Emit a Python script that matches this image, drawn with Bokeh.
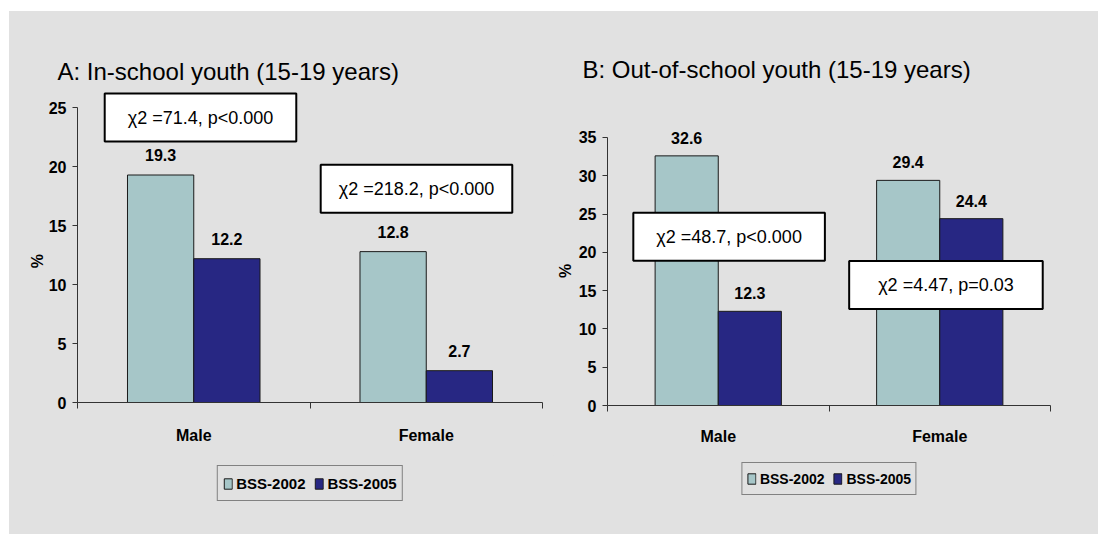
import numpy as np
from bokeh.plotting import figure
from bokeh.models import (ColumnDataSource, Range1d, FixedTicker, Label, LabelSet,
                          Legend, LegendItem, Spacer)
from bokeh.core.properties import value
from bokeh.layouts import row, column
from bokeh.embed import file_html
from bokeh.resources import INLINE

# ---------------- data ----------------
categories = ["Male", "Female"]
series_names = ["BSS-2002", "BSS-2005"]
a_2002 = [19.3, 12.8]
a_2005 = [12.2, 2.7]
b_2002 = [32.6, 29.4]
b_2005 = [12.3, 24.4]
a_title = "A: In-school youth (15-19 years)"
b_title = "B: Out-of-school youth (15-19 years)"
a_tests = ["\u03c72 =71.4, p<0.000", "\u03c72 =218.2, p<0.000"]
b_tests = ["\u03c72 =48.7, p<0.000", "\u03c72 =4.47, p=0.03"]
a_yticks = [0, 5, 10, 15, 20, 25]
b_yticks = [0, 5, 10, 15, 20, 25, 30, 35]
y_label = "%"

# ---------------- style ----------------
BG = "#e1e1e1"
COLORS = ["#a6c6c8", "#272783"]
SANS = "Liberation Sans"
BAR_W = 0.285
MAIN_H = 444
LEG_H = 79
NBSP = "\u00a0"


def style_fig(p):
    p.background_fill_color = BG
    p.border_fill_color = BG
    p.outline_line_color = None


def make_panel(width, borders, y_end, yticks, series_vals, title, title_offset, title_standoff,
               tests, tests_xy, tests_hpad, label_off, x_standoff, ylab_standoff, ylab_pad,
               legend_font, legend_pad, legend_lh, legend_margin):
    n = len(categories)
    p = figure(width=width, height=MAIN_H, x_range=Range1d(0, n), y_range=Range1d(0, y_end),
               output_backend="svg", toolbar_location=None,
               min_border_left=borders[0], min_border_right=borders[1],
               min_border_top=borders[2], min_border_bottom=borders[3])
    style_fig(p)
    p.xgrid.visible = False
    p.ygrid.visible = False

    # title
    p.title.text = title
    p.title.align = "left"
    p.title.offset = title_offset
    p.title.standoff = title_standoff
    p.title.text_font = SANS
    p.title.text_font_size = "24px"
    p.title.text_font_style = "normal"
    p.title.text_color = "black"

    centers = np.arange(n) + 0.5
    offsets = [-BAR_W / 2, BAR_W / 2]
    for vals, col, off in zip(series_vals, COLORS, offsets):
        src = ColumnDataSource(dict(x=centers + off, top=vals,
                                    label=[f"{v:.1f}" for v in vals]))
        p.vbar(x="x", top="top", bottom=0, width=BAR_W, source=src,
               fill_color=col, line_color="#1a1a1a", line_width=1)
        p.add_layout(LabelSet(x="x", y="top", text="label", source=src,
                              text_align="center", text_baseline="middle",
                              y_offset=label_off, text_font=value(SANS),
                              text_font_style="bold", text_font_size="16px",
                              text_color="black"))

    # axes
    xa = p.xaxis[0]
    xa.ticker = FixedTicker(ticks=list(centers), minor_ticks=list(range(n + 1)))
    xa.major_label_overrides = {float(c): categories[i] for i, c in enumerate(centers)}
    xa.major_tick_out = 0
    xa.major_tick_in = 0
    xa.minor_tick_out = 6
    xa.minor_tick_in = 0
    xa.minor_tick_line_color = "#333333"
    xa.axis_line_color = "#333333"
    xa.major_label_standoff = x_standoff
    xa.major_label_text_font = SANS
    xa.major_label_text_font_style = "bold"
    xa.major_label_text_font_size = "16px"
    xa.major_label_text_color = "black"

    ya = p.yaxis[0]
    ya.ticker = FixedTicker(ticks=yticks)
    ya.bounds = (yticks[0], yticks[-1])
    ya.major_tick_out = 5
    ya.major_tick_in = 0
    ya.minor_tick_out = 0
    ya.minor_tick_in = 0
    ya.major_tick_line_color = "#333333"
    ya.axis_line_color = "#333333"
    ya.major_label_standoff = 6
    ya.major_label_text_font = SANS
    ya.major_label_text_font_style = "bold"
    ya.major_label_text_font_size = "16px"
    ya.major_label_text_color = "black"
    # non-breaking spaces centre the "%" on the 0..max part of the axis
    ya.axis_label = y_label + NBSP * ylab_pad
    ya.axis_label_standoff = ylab_standoff
    ya.axis_label_text_font = SANS
    ya.axis_label_text_font_style = "bold"
    ya.axis_label_text_font_size = "16px"
    ya.axis_label_text_color = "black"

    # chi-square boxes
    for t, (tx, ty), hp in zip(tests, tests_xy, tests_hpad):
        p.add_layout(Label(x=tx, y=ty, text=t, text_font=SANS, text_font_size="18px",
                           text_align="center", text_baseline="middle", text_color="black",
                           background_fill_color="white", border_line_color="black",
                           border_line_width=2,
                           padding=dict(left=hp, right=hp, top=14, bottom=14)))

    # legend strip (its own small figure, frame aligned with the chart frame)
    lg = figure(width=width, height=LEG_H, x_range=Range1d(0, 1), y_range=Range1d(0, 1),
                output_backend="svg", toolbar_location=None,
                x_axis_type=None, y_axis_type=None,
                min_border_left=borders[0], min_border_right=borders[1],
                min_border_top=0, min_border_bottom=0)
    style_fig(lg)
    items = []
    for s, col in zip(series_names, COLORS):
        # swatch-only renderer (hidden in the strip, shown in the legend)
        r = lg.vbar(x=[0.5], top=[1.0], width=BAR_W, fill_color=col, line_color="#1a1a1a",
                    line_width=1)
        r.visible = False
        items.append(LegendItem(label=s, renderers=[r]))
    legend = Legend(items=items, orientation="horizontal", location="top_center",
                    border_line_color="#222222", border_line_width=1,
                    background_fill_color=BG, background_fill_alpha=1,
                    inactive_fill_alpha=0,
                    label_text_font=SANS, label_text_font_style="bold",
                    label_text_font_size=legend_font, label_text_color="black",
                    glyph_width=10, glyph_height=13, label_standoff=4, spacing=8,
                    padding=legend_pad, label_height=legend_lh, margin=legend_margin)
    lg.add_layout(legend, "center")
    return column(p, lg, styles={"background-color": BG})


c1 = make_panel(544, (68, 11, 77, 53), 26.64, a_yticks, [a_2002, a_2005], a_title, -20, 7,
                a_tests, [(0.529, 24.17), (1.458, 18.14)], [23, 18], 20, 18, 0, 7,
                "15px", 5, 24, 10)
c2 = make_panel(545, (54, 48, 107, 50), 37.48, b_yticks, [b_2002, b_2005], b_title, -25, 71,
                b_tests, [(0.549, 22.03), (1.528, 15.75)], [23, 29], 18, 16, 2, 4,
                "14px", 4, 23, 7)

charts = row(c1, c2, styles={"background-color": BG})
layout = column(Spacer(width=1098, height=11), row(Spacer(width=9, height=523), charts))
open("out.html", "w").write(file_html(layout, INLINE))
